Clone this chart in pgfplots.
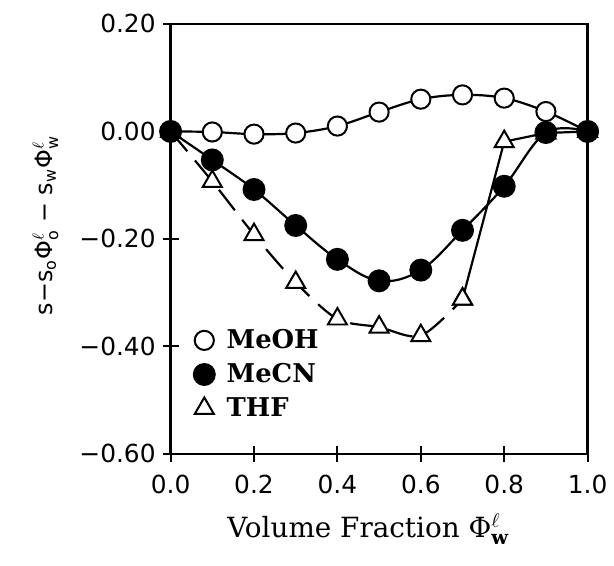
\documentclass[border=0pt]{standalone}
\usepackage{pgfplots}
\pgfplotsset{compat=1.18}
\usepackage{amsmath}
\usepackage{fontspec}
\setmainfont{DejaVu Serif}
\newfontfamily\ticksfont{DejaVu Sans}

% one reference pixel = 0.5bp
\pgfplotstableread{
x y
0.0 0.000
0.1 -0.001
0.2 -0.005
0.3 -0.003
0.4 0.010
0.5 0.036
0.6 0.060
0.7 0.068
0.8 0.062
0.9 0.037
1.0 0.000
}\meoh
\pgfplotstableread{
x y
0.0 0.000
0.1 -0.053
0.2 -0.108
0.3 -0.175
0.4 -0.238
0.5 -0.278
0.6 -0.258
0.7 -0.184
0.8 -0.102
0.9 -0.002
1.0 0.000
}\mecn
\pgfplotstableread{
x y
0.0 0.000
0.1 -0.093
0.2 -0.192
0.3 -0.281
0.4 -0.349
0.5 -0.364
0.6 -0.380
0.7 -0.312
}\thfa
\pgfplotstableread{
x y
0.7 -0.312
0.8 -0.019
0.9 -0.003
1.0 0.000
}\thfb

\begin{document}
\begin{tikzpicture}
\begin{axis}[
  name=ax,
  scale only axis,
  width=209bp, height=215.5bp,
  xmin=0, xmax=1, ymin=-0.6, ymax=0.2,
  axis line style={line width=1.2bp},
  xtick={0,0.2,...,1.0}, ytick={-0.6,-0.4,...,0.2},
  xticklabels={0.0,0.2,0.4,0.6,0.8,1.0},
  yticklabels={−0.60,−0.40,−0.20,0.00,0.20},
  xtick pos=bottom, ytick pos=left,
  tick align=center, major tick length=8bp,
  tick style={line width=1bp, black},
  ticklabel style={font=\ticksfont\fontsize{12.5}{14}\selectfont},
  xticklabel style={yshift=-3bp},
  xlabel={Volume Fraction Φ$^{\ell}_{\textbf{w}}$},
  xlabel style={at={(axis description cs:0.474,-0.195)}, anchor=base,
    font=\fontsize{14}{16}\selectfont},
  ylabel={s−s$_{\text{o}}$Φ$^{\ell}_{\text{o}}$ − s$_{\text{w}}$Φ$^{\ell}_{\text{w}}$},
  ylabel style={at={(axis description cs:-0.30,0.531)}, anchor=center,
    font=\ticksfont\fontsize{12}{14}\selectfont},
  legend style={draw=none, fill=none, at={(axis description cs:0.055,0.30)},
    anchor=north west, font=\bfseries\fontsize{13}{15}\selectfont,
    row sep=2bp, inner sep=0pt,
    nodes={inner xsep=6bp}},
  legend cell align=left,
  every axis plot/.append style={line width=1.1bp, black},
]
\addlegendimage{only marks, mark=o, mark size=4.8bp, mark options={fill=white, line width=1bp}}
\addlegendentry{MeOH}
\addlegendimage{only marks, mark=*, mark size=5.2bp}
\addlegendentry{MeCN}
\addlegendimage{only marks, mark=triangle, mark size=5.5bp, mark options={fill=white, line width=1bp}}
\addlegendentry{THF}

\addplot[smooth, tension=0.6, forget plot] table {\meoh};
\addplot[smooth, tension=0.6, forget plot] table {\mecn};
\addplot[smooth, tension=0.5, dash pattern=on 13bp off 6bp, forget plot] table {\thfa};
\addplot[sharp plot, forget plot] table {\thfb};

\addplot[only marks, mark=triangle*, mark size=5.5bp, mark options={fill=white, line width=1bp}, forget plot] table {\thfa};
\addplot[only marks, mark=triangle*, mark size=5.5bp, mark options={fill=white, line width=1bp}, forget plot] table {\thfb};
\addplot[only marks, mark=*, mark size=4.8bp, mark options={fill=white, line width=1bp}, forget plot] table {\meoh};
\addplot[only marks, mark=*, mark size=5.2bp, forget plot] table {\mecn};
\end{axis}
\path[use as bounding box] ([xshift=-85.5bp, yshift=-56bp]ax.south west) rectangle ([xshift=12.5bp, yshift=12bp]ax.north east);
\end{tikzpicture}
\end{document}
